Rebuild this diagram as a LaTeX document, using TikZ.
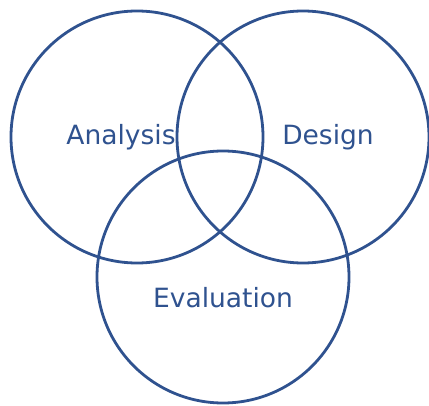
\documentclass[tikz,border=0pt]{standalone}
\usepackage{fontspec}
\setmainfont{DejaVu Sans}
\definecolor{venn}{RGB}{47,82,143}
\begin{document}
\begin{tikzpicture}[x=1pt,y=1pt,
  ring/.style={draw=venn,line width=2.8pt,circle,minimum size=252pt,inner sep=0pt},
  lbl/.style={text=venn,font=\fontsize{26.5}{30}\selectfont}]
\useasboundingbox (0,0) rectangle (429,405);
\node[ring] (analysis) at (137,268) {};
\node[ring] (design) at (303,268) {};
\node[ring] (evaluation) at (223,128) {};
\node[lbl] (ta) at (121,268) {Analysis};
\node[lbl] (td) at (328,268) {Design};
\node[lbl] (te) at (223,107) {Evaluation};
\end{tikzpicture}
\end{document}
